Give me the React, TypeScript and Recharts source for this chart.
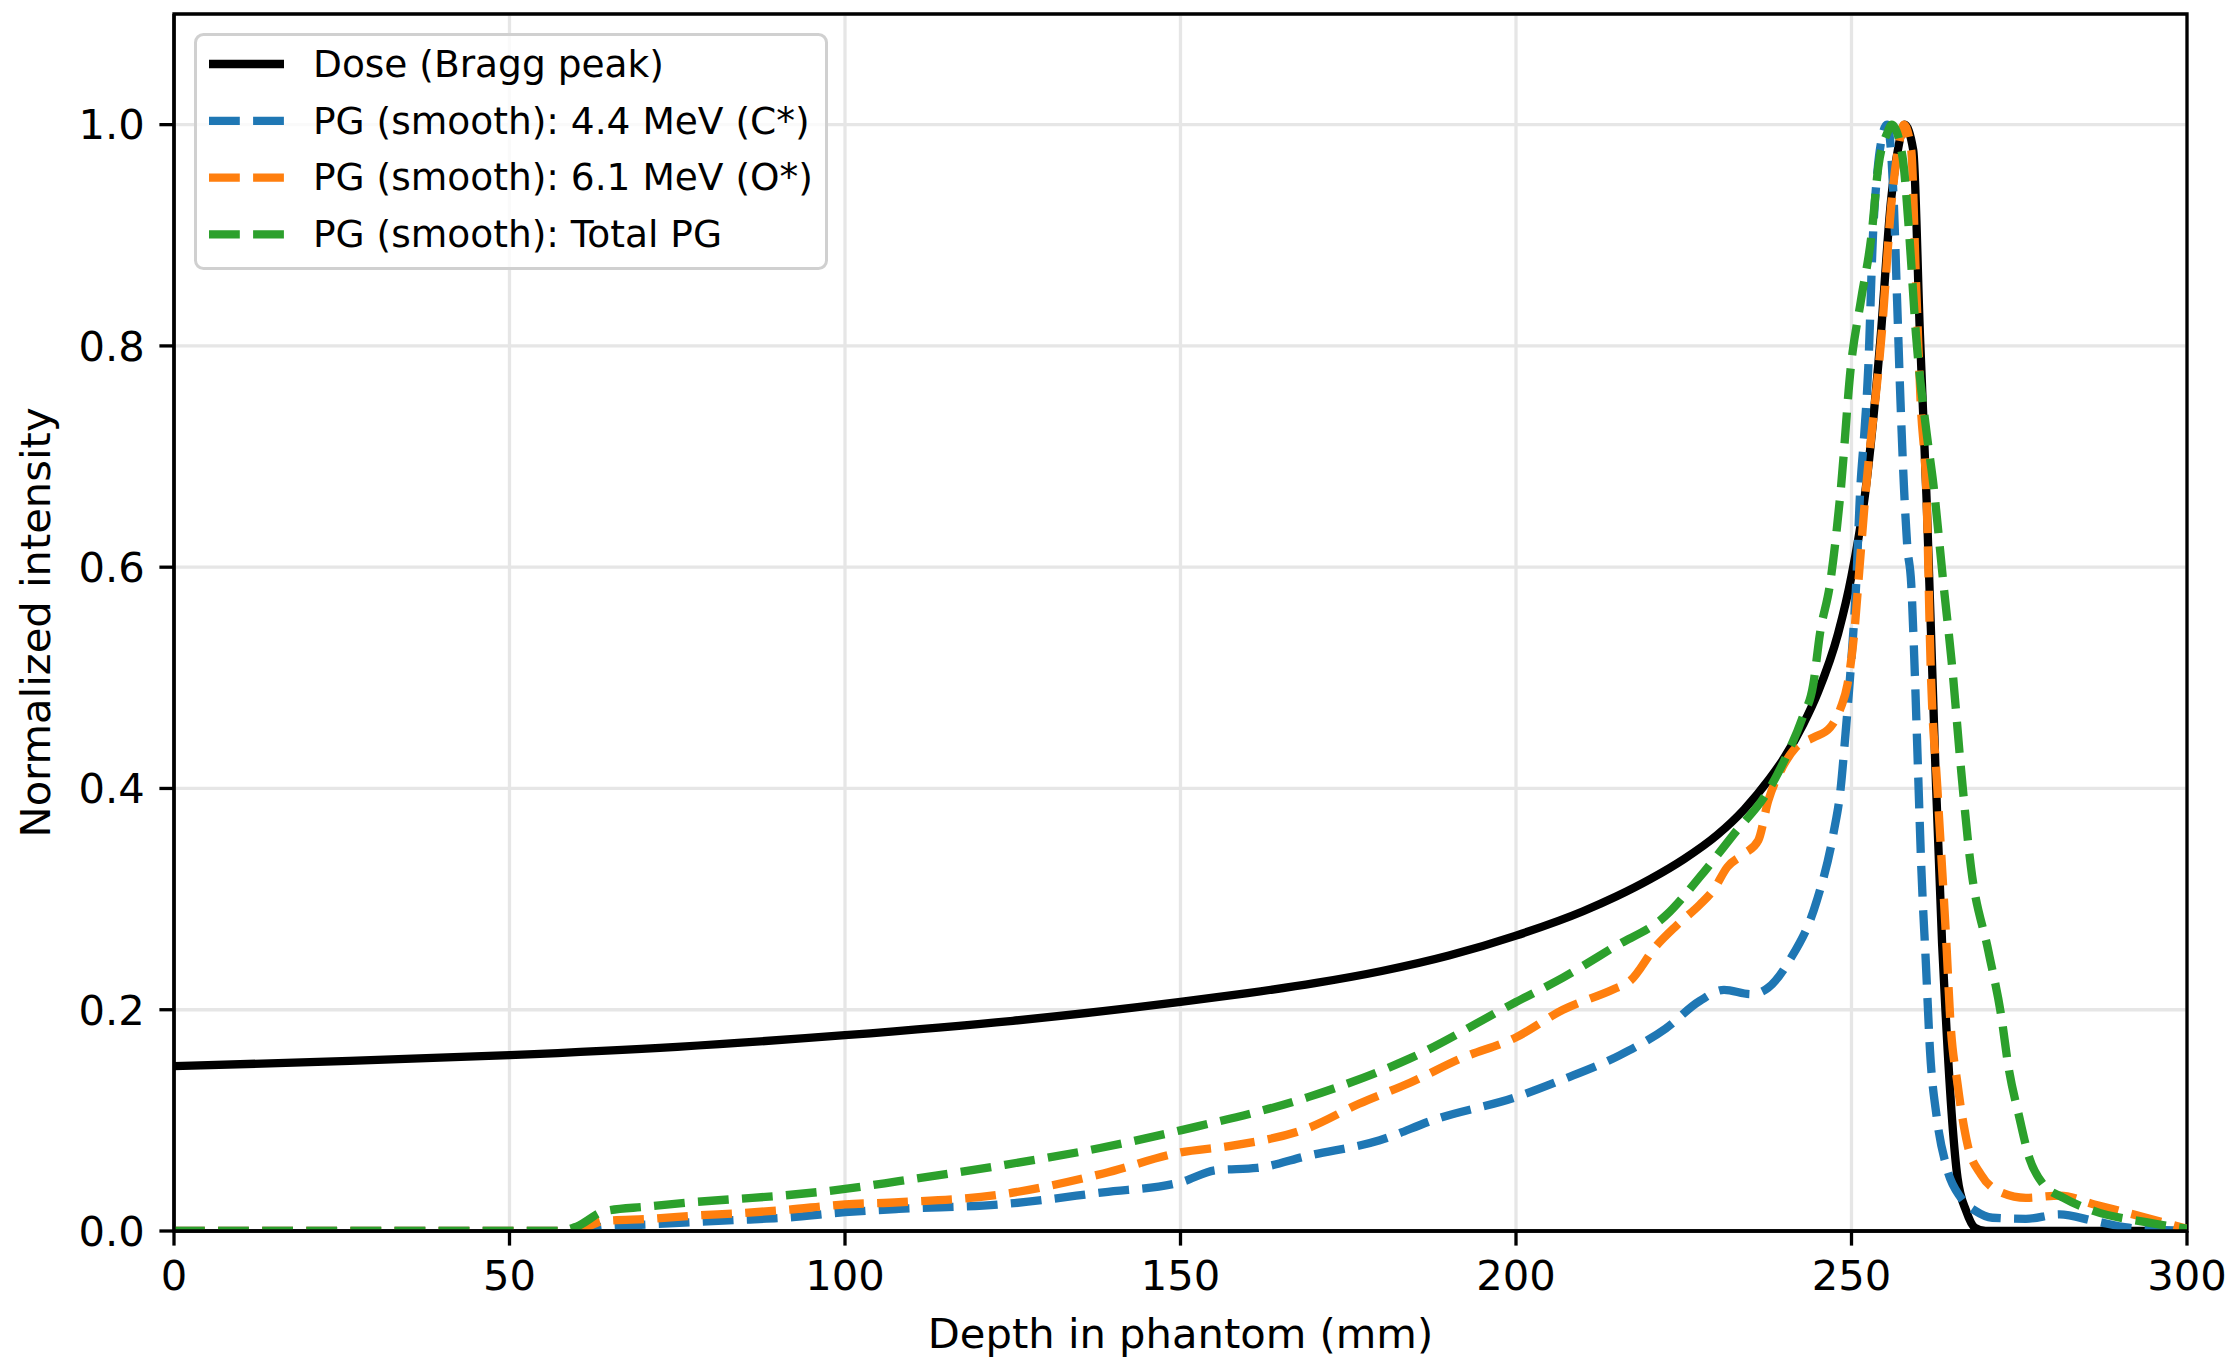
import {
  LineChart,
  Line,
  XAxis,
  YAxis,
  CartesianGrid,
  Legend,
  ReferenceArea,
} from 'recharts'

const FONT = '"DejaVu Sans", Verdana, sans-serif'

const depthTicks = [0, 50, 100, 150, 200, 250, 300]
const intensityTicks = [0, 0.2, 0.4, 0.6, 0.8, 1.0]

// Dose (Bragg peak)
const doseDepth = [
  0, 25, 50, 75, 100, 125, 150, 160, 170, 180, 190, 200, 210, 215, 220, 225, 230, 234, 237.7, 240,
  242.8, 245, 248, 250, 252, 254.3, 255.9, 257, 257.9, 259.2, 260.2, 261.2, 262.5, 263.5, 264, 265,
  265.8, 267.1, 268.4, 270, 280, 290, 300,
]
const doseValue = [
  0.149, 0.1535, 0.159, 0.1665, 0.177, 0.19, 0.207, 0.215, 0.224, 0.235, 0.249, 0.267, 0.289,
  0.3025, 0.318, 0.336, 0.358, 0.381, 0.408, 0.428, 0.458, 0.487, 0.54, 0.592, 0.665, 0.805, 0.932,
  0.98, 1.0, 0.977, 0.81, 0.66, 0.42, 0.26, 0.2, 0.1, 0.048, 0.018, 0.003, 0, 0, 0, 0,
]

// PG 4.4 MeV (C*)
const carbonDepth = [
  0, 59.5, 64, 71, 84, 91, 100, 108, 123, 138.5, 150, 155.3, 161.4, 169, 179.7, 188, 200, 207,
  215.5, 222.3, 227.4, 231, 235, 237.6, 240.7, 244.8, 247.3, 248.4, 249.1, 249.9, 250.7, 251.3,
  251.9, 252.5, 253.2, 253.9, 254.6, 255.3, 256.3, 256.8, 257.3, 257.8, 258.3, 258.9, 259.4, 259.9,
  260.4, 261.1, 261.7, 262.7, 264.2, 266.3, 268.5, 271, 276, 281, 286.2, 291.3, 296, 300,
]
const carbonValue = [
  0, 0, 0.004, 0.006, 0.01, 0.012, 0.017, 0.02, 0.024, 0.035, 0.044, 0.055, 0.057, 0.068, 0.082,
  0.101, 0.121, 0.137, 0.159, 0.183, 0.208, 0.218, 0.214, 0.22, 0.244, 0.298, 0.359, 0.401, 0.449,
  0.51, 0.585, 0.67, 0.72, 0.78, 0.9, 0.96, 0.99, 1.0, 0.93, 0.84, 0.75, 0.675, 0.62, 0.585, 0.51,
  0.419, 0.329, 0.24, 0.163, 0.103, 0.057, 0.03, 0.018, 0.012, 0.011, 0.015, 0.009, 0.003, 0.001, 0,
]

// PG 6.1 MeV (O*)
const oxygenDepth = [
  0, 59.7, 64, 71, 77.8, 84, 91, 100, 108, 123.2, 138.5, 150, 157.5, 169, 176.6, 184.2, 191.8, 200,
  207, 214.7, 217, 220.8, 223.9, 227.4, 229.4, 231.5, 234, 236.1, 237.6, 239.7, 241.7, 244.3, 246.8,
  248.4, 249.4, 250.4, 251.2, 252, 254.5, 256, 257.1, 257.8, 258.9, 259.6, 260.3, 261.2, 261.8,
  262.8, 264.2, 264.7, 265.8, 267.3, 269.3, 271.9, 276, 281.1, 286.2, 293.9, 300,
]
const oxygenValue = [
  0, 0, 0.009, 0.011, 0.014, 0.016, 0.019, 0.024, 0.026, 0.033, 0.052, 0.071, 0.077, 0.093, 0.115,
  0.134, 0.156, 0.175, 0.2, 0.219, 0.226, 0.257, 0.276, 0.295, 0.308, 0.329, 0.341, 0.353, 0.389,
  0.419, 0.437, 0.446, 0.455, 0.473, 0.494, 0.54, 0.6, 0.66, 0.811, 0.932, 0.983, 1.0, 0.977, 0.86,
  0.75, 0.66, 0.51, 0.4, 0.253, 0.193, 0.133, 0.078, 0.051, 0.036, 0.03, 0.032, 0.024, 0.012, 0.002,
]

// PG total
const totalDepth = [
  0, 57.5, 60, 64.2, 70.4, 77.2, 83.9, 90.6, 100, 108, 123, 138, 150, 169, 184.2, 200, 207, 214.7,
  222.3, 227.4, 232.5, 237.6, 240.2, 242.7, 244.3, 245.3, 246.8, 248.4, 249.9, 251.4, 253, 254,
  255.3, 256, 257.6, 258.6, 259.6, 261.2, 262.2, 263.7, 265, 266.3, 267.8, 270.4, 272.3, 273.4, 275,
  276.5, 278.6, 281.6, 286.2, 293.9, 300,
]
const totalValue = [
  0, 0, 0.004, 0.018, 0.022, 0.026, 0.029, 0.032, 0.038, 0.045, 0.059, 0.075, 0.091, 0.121, 0.156,
  0.207, 0.229, 0.257, 0.285, 0.32, 0.359, 0.398, 0.428, 0.464, 0.494, 0.54, 0.585, 0.67, 0.781,
  0.841, 0.901, 0.962, 0.992, 1.0, 0.971, 0.901, 0.811, 0.721, 0.675, 0.585, 0.51, 0.419, 0.329,
  0.253, 0.195, 0.148, 0.103, 0.066, 0.042, 0.03, 0.018, 0.008, 0.002,
]

const toPoints = (xs: number[], ys: number[]) => xs.map((x, i) => ({ x, y: ys[i] }))

const DASH = '30.8 13.3'
const LW = 8.33

const series = [
  { key: 'dose', name: 'Dose (Bragg peak)', color: '#000000', dash: undefined, data: toPoints(doseDepth, doseValue) },
  { key: 'c', name: 'PG (smooth): 4.4 MeV (C*)', color: '#1f77b4', dash: DASH, data: toPoints(carbonDepth, carbonValue) },
  { key: 'o', name: 'PG (smooth): 6.1 MeV (O*)', color: '#ff7f0e', dash: DASH, data: toPoints(oxygenDepth, oxygenValue) },
  { key: 'total', name: 'PG (smooth): Total PG', color: '#2ca02c', dash: DASH, data: toPoints(totalDepth, totalValue) },
]

function LegendBox() {
  return (
    <svg width={634} height={237} style={{ display: 'block' }}>
      <rect
        x={1.5}
        y={1.5}
        width={631}
        height={234}
        rx={8}
        fill="#ffffff"
        fillOpacity={0.8}
        stroke="#d0d0d0"
        strokeWidth={3}
      />
      {series.map((s, i) => {
        const cy = 31 + i * 56.8
        return (
          <g key={s.key}>
            <line x1={15} x2={90} y1={cy} y2={cy} stroke={s.color} strokeWidth={LW} strokeDasharray={s.dash} />
            <text x={119} y={cy + 12.7} fontFamily={FONT} fontSize={37.5} fill="#000">
              {s.name}
            </text>
          </g>
        )
      })}
    </svg>
  )
}

const tickStyle = { fontFamily: FONT, fontSize: 41.67, fill: '#000' }
const axisStroke = { stroke: '#000', strokeWidth: 3.3 }

export default function App() {
  return (
    <div style={{ position: 'absolute', left: 0, top: 0, background: '#fff' }}>
      <LineChart width={2238} height={1365} margin={{ top: 14, right: 51, bottom: 0, left: 0 }}>
        <CartesianGrid stroke="#e6e6e6" strokeWidth={3.3} />
        <XAxis
          type="number"
          dataKey="x"
          domain={[0, 300]}
          ticks={depthTicks}
          allowDataOverflow
          height={134}
          tick={tickStyle}
          tickSize={14.6}
          tickMargin={15}
          axisLine={axisStroke}
          tickLine={axisStroke}
          label={{
            content: ({ viewBox }: any) => (
              <text
                x={viewBox.x + viewBox.width / 2}
                y={1348}
                textAnchor="middle"
                fontFamily={FONT}
                fontSize={41.67}
                fill="#000"
              >
                Depth in phantom (mm)
              </text>
            ),
          }}
        />
        <YAxis
          type="number"
          domain={[0, 1.1]}
          ticks={intensityTicks}
          allowDataOverflow
          width={174}
          tick={tickStyle}
          tickSize={14.6}
          tickMargin={14.6}
          tickFormatter={(v: number) => v.toFixed(1)}
          axisLine={axisStroke}
          tickLine={axisStroke}
          label={{
            content: ({ viewBox }: any) => {
              const cy = viewBox.y + viewBox.height / 2
              return (
                <text
                  x={50}
                  y={cy}
                  transform={`rotate(-90 50 ${cy})`}
                  textAnchor="middle"
                  fontFamily={FONT}
                  fontSize={41.67}
                  fill="#000"
                >
                  Normalized intensity
                </text>
              )
            },
          }}
        />
        {series.map((s) => (
          <Line
            key={s.key}
            data={s.data}
            dataKey="y"
            name={s.name}
            type="monotone"
            stroke={s.color}
            strokeWidth={LW}
            strokeDasharray={s.dash}
            strokeLinejoin="round"
            dot={false}
            activeDot={false}
            isAnimationActive={false}
          />
        ))}
        <ReferenceArea x1={0} x2={300} y1={0} y2={1.1} fill="none" stroke="#000" strokeWidth={3.3} />
        <Legend
          layout="vertical"
          verticalAlign="middle"
          align="center"
          content={() => <LegendBox />}
          wrapperStyle={{ left: 194, top: 33, width: 634, height: 237 }}
        />
      </LineChart>
    </div>
  )
}
